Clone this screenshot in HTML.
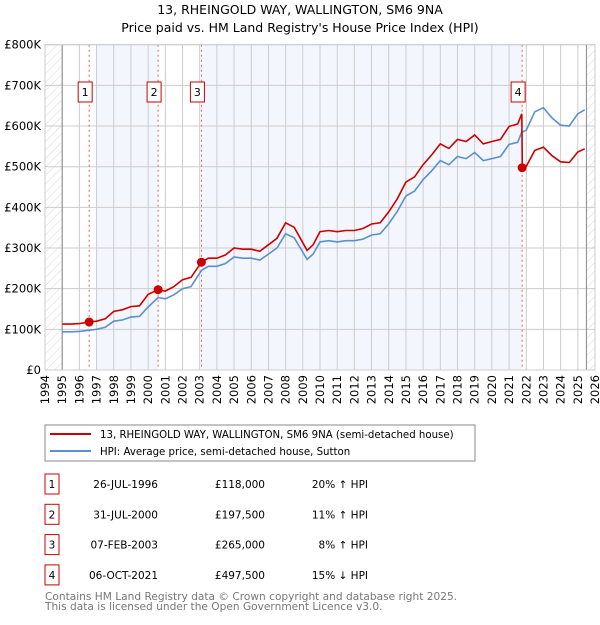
<!DOCTYPE html>
<html><head><meta charset="utf-8"><style>
body{margin:0;background:#fff;}
svg text{font-family:"DejaVu Sans","Liberation Sans",sans-serif;}
</style></head><body>
<svg id="c" width="600" height="620" xmlns="http://www.w3.org/2000/svg">
<defs><pattern id="hatch" width="6" height="6" patternUnits="userSpaceOnUse" patternTransform="rotate(45)"><line x1="0" y1="0" x2="0" y2="6" stroke="#d8d8d8" stroke-width="1"/></pattern></defs>
<text x="300" y="14" text-anchor="middle" font-size="12.5">13, RHEINGOLD WAY, WALLINGTON, SM6 9NA</text>
<text x="300" y="32" text-anchor="middle" font-size="12.5">Price paid vs. HM Land Registry's House Price Index (HPI)</text>
<g id="plot"></g>
<rect x="45" y="425" width="430" height="36" fill="#fff" stroke="#888"/>
<line x1="50" y1="434" x2="91" y2="434" stroke="#cc0000" stroke-width="2"/>
<text x="100" y="438" font-size="10.2">13, RHEINGOLD WAY, WALLINGTON, SM6 9NA (semi-detached house)</text>
<line x1="50" y1="451" x2="91" y2="451" stroke="#5b8fd0" stroke-width="2"/>
<text x="100" y="455" font-size="10.2">HPI: Average price, semi-detached house, Sutton</text>
<g id="table"></g>
<text x="45" y="600" font-size="10.6" fill="#777">Contains HM Land Registry data © Crown copyright and database right 2025.</text>
<text x="45" y="610" font-size="10.6" fill="#777">This data is licensed under the Open Government Licence v3.0.</text>
</svg>
<script>
const dates=[1995,1995.5,1996,1996.57,1997,1997.5,1998,1998.5,1999,1999.5,2000,2000.58,2001,2001.5,2002,2002.5,2003.1,2003.5,2004,2004.5,2005,2005.5,2006,2006.5,2007,2007.5,2008,2008.5,2009,2009.25,2009.6,2010,2010.5,2011,2011.5,2012,2012.5,2013,2013.5,2014,2014.5,2015,2015.5,2016,2016.5,2017,2017.5,2018,2018.5,2019,2019.5,2020,2020.5,2021,2021.5,2021.74,2021.77,2022,2022.5,2023,2023.5,2024,2024.5,2025,2025.4];
const hpi=[94,94,95,98,100,105,120,123,130,132,155,178,175,185,200,205,245,255,255,262,278,275,275,270,285,300,335,325,290,272,285,315,318,315,318,318,322,332,335,360,390,428,440,468,490,515,505,525,520,535,515,520,525,555,560,585,585,590,635,645,620,602,600,630,640];
const prop=[113,113,114,118,120,126,144,148,156,158,186,197.5,194,205,222,228,265,275,275,283,300,297,297,292,308,324,362,351,313,294,308,340,343,340,343,343,348,359,362,389,421,462,475,505,529,556,545,567,562,578,556,562,567,599,605,630,497.5,501,540,548,527,512,510,536,544];
const saleYears=[1996.57,2000.58,2003.1,2021.76];
const salePrices=[118,197.5,265,497.5];
const saleDates=["26-JUL-1996","31-JUL-2000","07-FEB-2003","06-OCT-2021"];
const salePriceLabels=["£118,000","£197,500","£265,000","£497,500"];
const saleDiffs=["20% ↑ HPI","11% ↑ HPI","8% ↑ HPI","15% ↓ HPI"];
const yTicks=[0,100,200,300,400,500,600,700,800];
const yTickLabels=["£0","£100K","£200K","£300K","£400K","£500K","£600K","£700K","£800K"];
const xTicks=[1994,1995,1996,1997,1998,1999,2000,2001,2002,2003,2004,2005,2006,2007,2008,2009,2010,2011,2012,2013,2014,2015,2016,2017,2018,2019,2020,2021,2022,2023,2024,2025,2026];

const X0=45,X1=595,Y0=370,Y1=44.7;
const xs=y=>X0+(y-1994)/32*(X1-X0);
const ys=v=>Y0-v/800*(Y0-Y1);
const NS="http://www.w3.org/2000/svg";
const g=document.getElementById('plot');
function mk(tag,attrs,parent){const e=document.createElementNS(NS,tag);for(const k in attrs)e.setAttribute(k,attrs[k]);(parent||g).appendChild(e);return e;}
let e;
e=mk('rect',{x:X0,y:Y1,width:X1-X0,height:Y0-Y1,fill:'#fff'});


e=mk('rect',{x:xs(1997),y:Y1,width:xs(saleYears[1])-xs(1997),height:Y0-Y1,fill:'#f3f7fd'});


e=mk('rect',{x:xs(saleYears[2]),y:Y1,width:xs(saleYears[3])-xs(saleYears[2]),height:Y0-Y1,fill:'#f3f7fd'});


e=mk('rect',{x:X0,y:Y1,width:xs(1995)-X0,height:Y0-Y1,fill:'url(#hatch)'});


e=mk('rect',{x:xs(2025.5),y:Y1,width:X1-xs(2025.5),height:Y0-Y1,fill:'url(#hatch)'});


xTicks.forEach((t,i)=>{
  e=mk('line',{x1:xs(t),x2:xs(t),y1:Y1,y2:Y0,stroke:'#ccc','stroke-width':1});
  
  
  e=mk('text',{transform:`translate(${xs(t)+4},${Y0+5}) rotate(-90)`,'text-anchor':'end','font-size':11.5});
  e.textContent=t;
  
  
});
yTicks.forEach((t,i)=>{
  e=mk('line',{x1:X0,x2:X1,y1:ys(t),y2:ys(t),stroke:'#ccc','stroke-width':1});
  
  
  e=mk('text',{x:X0-4,y:ys(t)+4,'text-anchor':'end','font-size':11.5});
  e.textContent=yTickLabels[i];
  
  
});
e=mk('line',{x1:xs(1995),x2:xs(1995),y1:Y1,y2:Y0,stroke:'#888'});


e=mk('line',{x1:xs(2025.5),x2:xs(2025.5),y1:Y1,y2:Y0,stroke:'#888'});


saleYears.forEach((s,i)=>{
  e=mk('line',{x1:xs(s),x2:xs(s),y1:Y1,y2:Y0,stroke:'#e06060','stroke-dasharray':'2,3'});
  
  
});
e=mk('path',{d:dates.map((d,i)=>(i?'L':'M')+xs(d).toFixed(1)+','+ys(hpi[i]).toFixed(1)).join(''),fill:'none',stroke:'#5b8fd0','stroke-width':1.6});


e=mk('path',{d:dates.map((d,i)=>(i?'L':'M')+xs(d).toFixed(1)+','+ys(prop[i]).toFixed(1)).join(''),fill:'none',stroke:'#cc0000','stroke-width':1.6});


saleYears.forEach((s,i)=>{
  e=mk('circle',{cx:xs(s),cy:ys(salePrices[i]),r:4.5,fill:'#cc0000'});
  
  
  e=mk('rect',{x:xs(s)-11,y:82,width:14,height:20,fill:'#fff',stroke:'#cc0000'});
  
  
  e=mk('text',{x:xs(s)-4,y:96,'text-anchor':'middle','font-size':11});
  e.textContent=i+1;
  
  
});
e=mk('rect',{x:X0,y:Y1,width:X1-X0,height:Y0-Y1,fill:'none',stroke:'#ccc'});


const tb=document.getElementById('table');
saleDates.forEach((d,i)=>{
  const cy=483+i*30.3;
  e=mk('rect',{x:45,y:cy-9,width:14,height:20,fill:'#fff',stroke:'#cc0000'},tb);
  
  
  e=mk('text',{x:52,y:cy+5,'text-anchor':'middle','font-size':10.5},tb);
  e.textContent=i+1;
  
  
  e=mk('text',{x:158,y:cy+5,'text-anchor':'end','font-size':10.5},tb);
  e.textContent=d;
  
  
  e=mk('text',{x:265,y:cy+5,'text-anchor':'end','font-size':10.5},tb);
  e.textContent=salePriceLabels[i];
  
  
  e=mk('text',{x:368,y:cy+5,'text-anchor':'end','font-size':10.5},tb);
  e.textContent=saleDiffs[i];
  
  
});
</script>
</body></html>
